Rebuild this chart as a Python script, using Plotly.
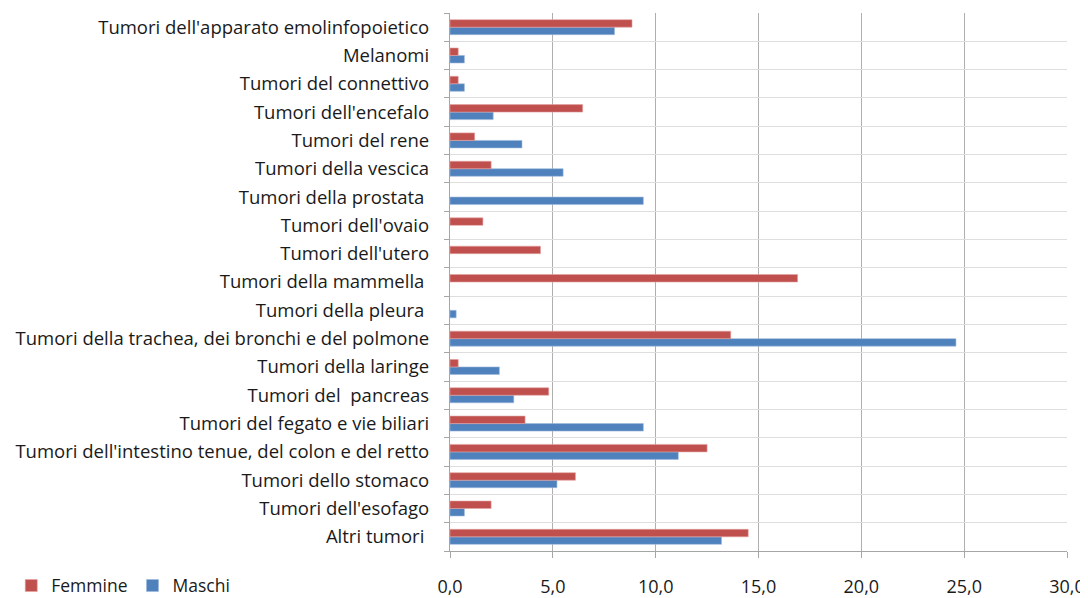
import plotly.graph_objects as go

categories = [
    "Altri tumori ",
    "Tumori dell'esofago",
    "Tumori dello stomaco",
    "Tumori dell'intestino tenue, del colon e del retto",
    "Tumori del fegato e vie biliari",
    "Tumori del  pancreas",
    "Tumori della laringe",
    "Tumori della trachea, dei bronchi e del polmone",
    "Tumori della pleura ",
    "Tumori della mammella ",
    "Tumori dell'utero",
    "Tumori dell'ovaio",
    "Tumori della prostata ",
    "Tumori della vescica",
    "Tumori del rene",
    "Tumori dell'encefalo",
    "Tumori del connettivo",
    "Melanomi",
    "Tumori dell'apparato emolinfopoietico",
]

femmine = [14.5, 2.0, 6.1, 12.5, 3.65, 4.8, 0.4, 13.65, None, 16.9, 4.4, 1.6, None, 2.0, 1.2, 6.45, 0.4, 0.4, 8.85]
maschi = [13.2, 0.7, 5.2, 11.1, 9.4, 3.1, 2.4, 24.6, 0.3, None, None, None, 9.4, 5.5, 3.5, 2.1, 0.7, 0.7, 8.0]

x_ticks = [0, 5, 10, 15, 20, 25, 30]

FONT = "Open Sans"
TXT = "#1a1a1a"

fig = go.Figure()
fig.add_trace(go.Bar(
    y=categories, x=maschi, name="Maschi", orientation="h",
    marker=dict(color="#4F81BD", line=dict(color="#9DB9DC", width=0.6)),
))
fig.add_trace(go.Bar(
    y=categories, x=femmine, name="Femmine", orientation="h",
    marker=dict(color="#C0504D", line=dict(color="#E3A3A1", width=0.6)),
))

fig.update_layout(
    width=1088, height=598,
    margin=dict(l=442, r=29, t=5, b=55, autoexpand=False),
    barmode="group",
    bargap=0.47,
    bargroupgap=0.0,
    plot_bgcolor="white",
    paper_bgcolor="white",
    separators=",.",
    font=dict(family=FONT, size=18, color=TXT),
    showlegend=True,
    legend=dict(
        orientation="h", traceorder="reversed",
        xref="container", yref="container",
        x=0.003, y=0.034, xanchor="left", yanchor="middle",
        font=dict(family=FONT, size=17.5, color=TXT),
        itemwidth=30,
        bgcolor="rgba(0,0,0,0)",
    ),
)

fig.update_xaxes(
    range=[0, 30],
    tickvals=x_ticks,
    tickformat=".1f",
    automargin=False,
    showgrid=True, gridcolor="#AFAFAF", gridwidth=1.2,
    zeroline=False,
    showline=True, linecolor="#A6A6A6", linewidth=1.3,
    ticks="outside", ticklen=6, tickcolor="#A6A6A6", tickwidth=1.3,
    ticklabelstandoff=13,
    tickfont=dict(family=FONT, size=18, color=TXT),
)
fig.update_yaxes(
    type="category",
    categoryorder="array", categoryarray=categories,
    tickson="boundaries",
    automargin=False,
    showgrid=True, gridcolor="#DEDEDE", gridwidth=1.3,
    showline=True, linecolor="#A6A6A6", linewidth=1.3,
    ticks="outside", ticklen=5, tickcolor="#A6A6A6", tickwidth=1.3,
    ticklabelstandoff=16,
    tickfont=dict(family=FONT, size=18.5, color=TXT),
    range=[-0.5, len(categories) - 0.5],
)

fig.write_html("out.html")
